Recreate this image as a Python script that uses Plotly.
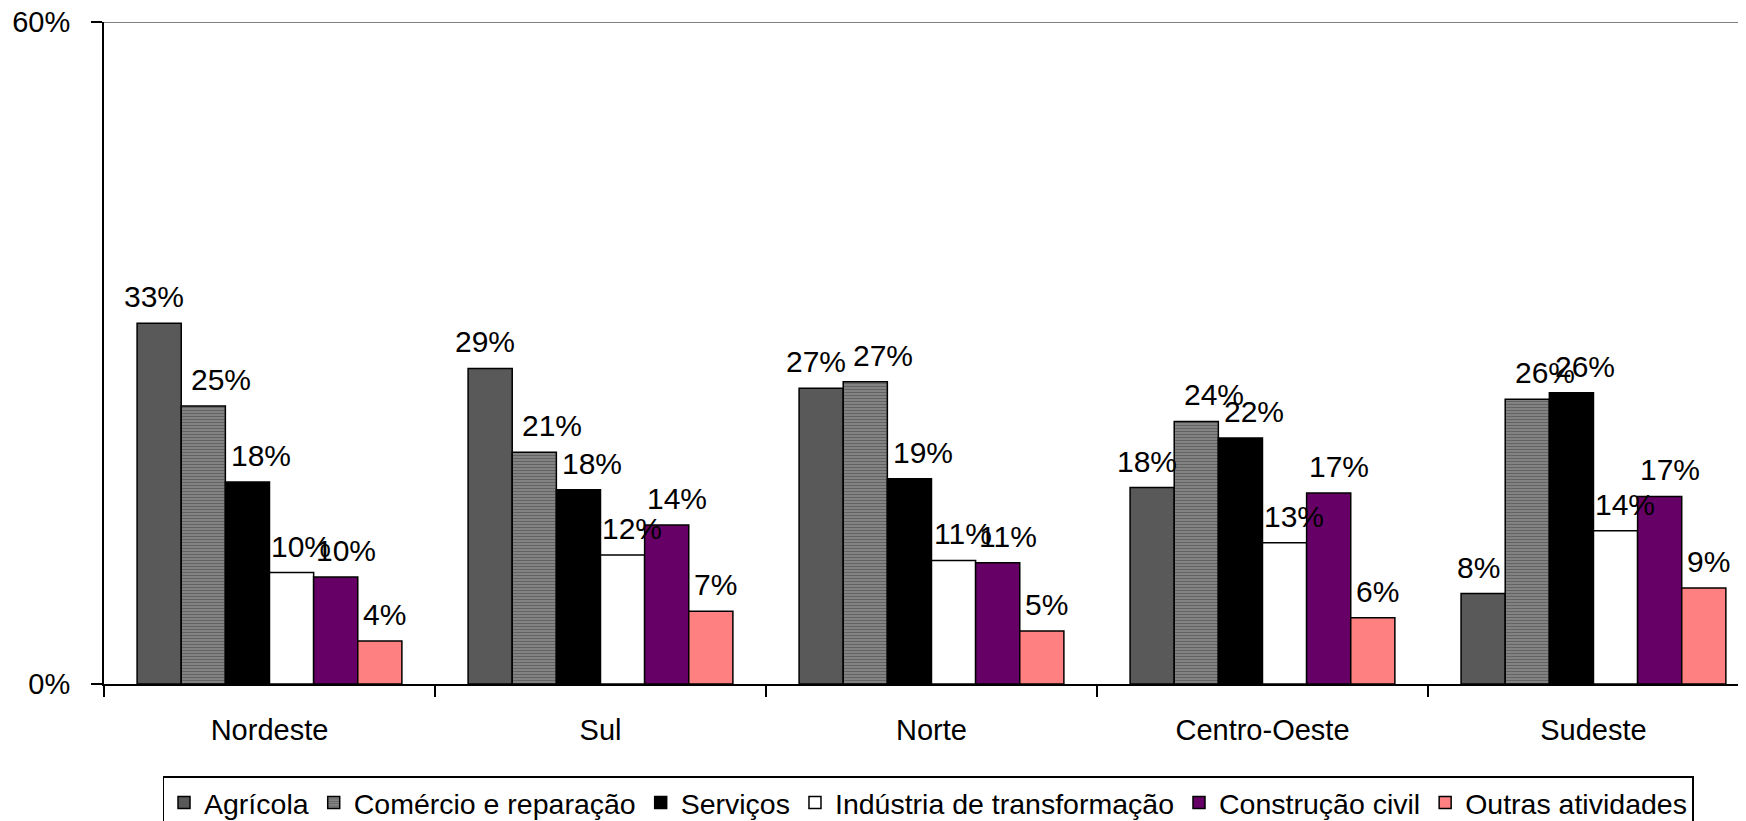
import plotly.graph_objects as go

# regions and sectors
regioes = ["Nordeste", "Sul", "Norte", "Centro-Oeste", "Sudeste"]

agricola = [0.327, 0.286, 0.268, 0.178, 0.082]
comercio = [0.252, 0.210, 0.274, 0.238, 0.258]
servicos = [0.183, 0.176, 0.186, 0.223, 0.264]
industria = [0.101, 0.117, 0.112, 0.128, 0.139]
construcao = [0.097, 0.144, 0.110, 0.173, 0.170]
outras = [0.039, 0.066, 0.048, 0.060, 0.087]

series = [
    ("Agrícola", agricola, dict(color="#595959")),
    ("Comércio e reparação", comercio,
     dict(color="#707070", pattern=dict(shape="-", size=3, solidity=0.5,
                                        fgcolor="#383838", bgcolor="#8e8e8e"))),
    ("Serviços", servicos, dict(color="#000000")),
    ("Indústria de transformação", industria, dict(color="#ffffff")),
    ("Construção civil", construcao, dict(color="#660066")),
    ("Outras atividades", outras, dict(color="#ff8080")),
]
# label nudges (px) per series, as the labels sit a bit right of the bars
label_dx = [-5, 18, 14, 9, 10, 5]

font_name = "Liberation Sans, Arial, sans-serif"

# page body has an 8px margin, so the figure is shifted by 8px
W, H = 1746, 821
ML, MR, MT, MB = 96, 0, 14, 145
xmin, xmax = -0.5, 4.485
bargap = 0.2
px_per_cat = (W - ML - MR) / (xmax - xmin)
bar_px = px_per_cat * (1 - bargap) / len(series)

fig = go.Figure()
annots = []
for i, (nome, vals, mk) in enumerate(series):
    mk = dict(mk)
    mk["line"] = dict(color="#000000", width=1.5)
    fig.add_trace(go.Bar(name=nome, x=regioes, y=vals, marker=mk))
    off = (i - (len(series) - 1) / 2) * bar_px + label_dx[i]
    for r, v in zip(regioes, vals):
        annots.append(dict(
            x=r, y=v, text=f"{round(v * 100)}%", showarrow=False,
            xanchor="center", yanchor="bottom", xshift=off, yshift=8,
            font=dict(size=30, color="#000000", family=font_name),
        ))

fig.update_layout(
    width=W, height=H,
    margin=dict(l=ML, r=MR, t=MT, b=MB, autoexpand=False),
    barmode="group", bargap=bargap, bargroupgap=0,
    plot_bgcolor="white", paper_bgcolor="white",
    font=dict(family=font_name, size=29, color="#000000"),
    legend=dict(
        orientation="h", x=0.4994, xanchor="center", y=-0.139, yanchor="top",
        bordercolor="#000000", borderwidth=1.5,
        font=dict(size=28.5), itemwidth=30, tracegroupgap=0,
    ),
    showlegend=True,
    annotations=annots,
    # gridline at the 60% tick (plotly drops grid lines at the range edge)
    shapes=[dict(type="line", xref="paper", x0=0, x1=1, yref="y",
                 y0=0.6, y1=0.6, line=dict(color="#808080", width=2),
                 layer="below")],
)
fig.update_xaxes(
    range=[xmin, xmax], showline=True, linecolor="#000000", linewidth=2,
    ticks="outside", tickson="boundaries", ticklen=11, tickwidth=2,
    tickcolor="#000000", showgrid=False, automargin=False,
    ticklabelstandoff=19,
)
fig.update_yaxes(
    range=[0, 0.6], tickvals=[0, 0.6], ticktext=["0%", "60%"],
    showline=True, linecolor="#000000", linewidth=2, ticks="outside",
    ticklen=11, tickwidth=2, tickcolor="#000000", showgrid=False,
    zeroline=False, automargin=False, ticklabelstandoff=15,
    ticklabeloverflow="allow",
)

fig.write_html("out.html")
